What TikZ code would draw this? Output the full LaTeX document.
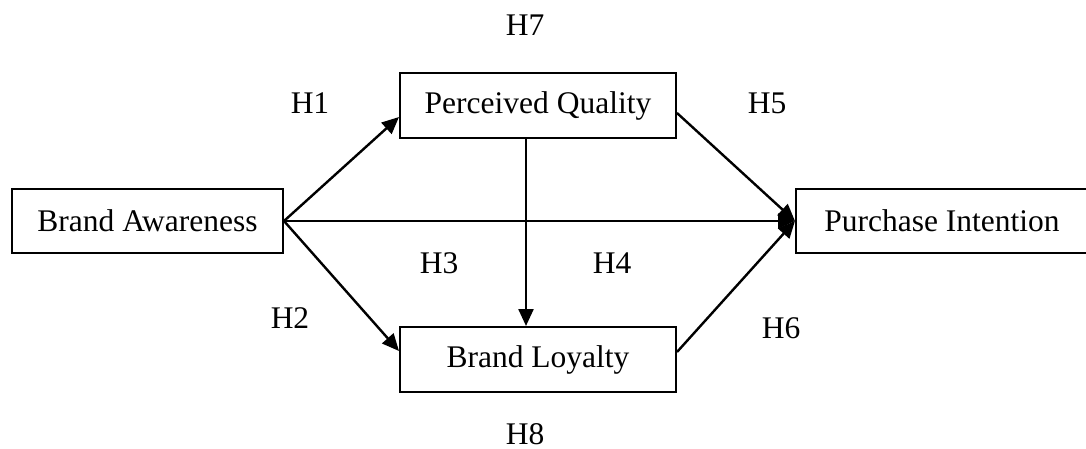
\documentclass[tikz,border=0pt]{standalone}
\usepackage{fontspec}
\setmainfont{Liberation Serif}
\usetikzlibrary{arrows.meta,calc}
\begin{document}
\begin{tikzpicture}[x=1pt,y=-1pt,
  box/.style={draw=black,line width=2pt,inner sep=0pt,font=\fontsize{31.5}{36}\selectfont},
  lbl/.style={inner sep=0pt,font=\fontsize{31.5}{36}\selectfont},
  conn/.style={line width=2.4pt,-{Triangle[length=17pt,width=15pt]}}]
\useasboundingbox (0,0) rectangle (1086,449);
\node[box,minimum width=271pt,minimum height=64pt] (BA) at (147.5,221) {Brand Awareness};
\node[box,minimum width=276pt,minimum height=65pt] (PQ) at (538,105.5) {Perceived Quality};
\node[box,minimum width=276pt,minimum height=65pt] (BL) at (538,359.5) {Brand Loyalty};
\node[box,minimum width=292pt,minimum height=64pt] (PI) at (942,221) {Purchase Intention};
\draw[conn] (BA.east) -- ($(PQ.west)+(0,11.5)$);
\draw[conn] (BA.east) -- ($(BL.west)+(0,-8.5)$);
\draw[conn] (BA.east) -- (PI.west);
\draw[conn] ($(PQ.east)+(0,7.5)$) -- (PI.west);
\draw[conn] ($(BL.east)+(0,-7.5)$) -- (PI.west);
\draw[conn] ($(PQ.south)+(-12,0)$) -- ($(BL.north)+(-12,0)$);
\node[lbl] (h7) at (525,25) {H7};
\node[lbl] (h1) at (310,103) {H1};
\node[lbl] (h5) at (767,103) {H5};
\node[lbl] (h3) at (439,263) {H3};
\node[lbl] (h4) at (612,263) {H4};
\node[lbl] (h2) at (290,318) {H2};
\node[lbl] (h6) at (781,328) {H6};
\node[lbl] (h8) at (525,434) {H8};
\end{tikzpicture}
\end{document}
